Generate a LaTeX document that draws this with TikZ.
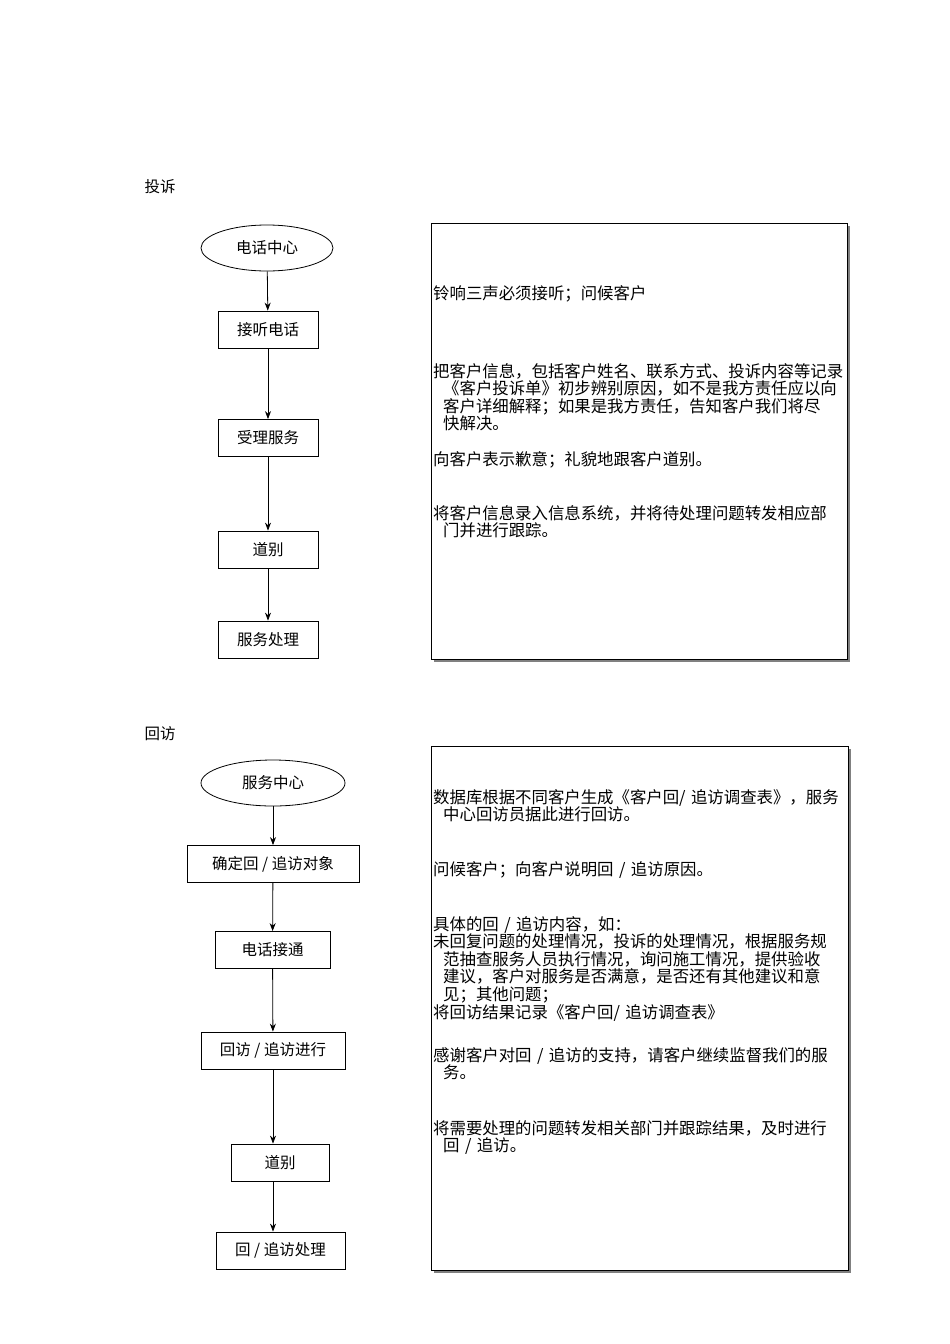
\documentclass[tikz,border=0pt]{standalone}
\usepackage{fontspec}
\setmainfont{Noto Sans CJK SC}
\usetikzlibrary{shapes.geometric,arrows.meta}
\begin{document}
\begin{tikzpicture}[x=1pt,y=-1pt,
  every node/.style={font=\fontsize{15.5}{17.5}\selectfont},
  flowbox/.style={draw,thick,minimum height=37pt,inner sep=0},
  oval/.style={draw,thick,ellipse,minimum width=132pt,minimum height=46pt},
  arr/.style={-{Stealth[length=8pt,width=6pt]},thick},
  panel/.style={draw,thick,fill=white},
  note/.style={anchor=north west,align=left,inner sep=0,text width=420pt,font=\fontsize{16.4}{17.6}\selectfont}]
\useasboundingbox (0,0) rectangle (950,1344);
% top
\node (t1) at (160,187) {投诉};
\fill[gray] (434,226) rectangle (850,662);
\draw[panel] (431,223) rectangle (847,659);
\node (a0) [oval] at (267,248) {电话中心};
\node (a1) [flowbox,minimum width=100pt] at (268,329.5) {接听电话};
\node (a2) [flowbox,minimum width=100pt] at (268,438) {受理服务};
\node (a3) [flowbox,minimum width=100pt] at (268,549.5) {道别};
\node (a4) [flowbox,minimum width=100pt] at (268,639.5) {服务处理};
\draw[arr] (a0) -- (a1);
\draw[arr] (a1) -- (a2);
\draw[arr] (a2) -- (a3);
\draw[arr] (a3) -- (a4);
\node (n1) [note] at (433,285) {铃响三声必须接听；问候客户};
\node (n2) [note] at (433,363) {把客户信息，包括客户姓名、联系方式、投诉内容等记录\\\hspace*{10pt}《客户投诉单》初步辨别原因，如不是我方责任应以向\\\hspace*{10pt}客户详细解释；如果是我方责任，告知客户我们将尽\\\hspace*{10pt}快解决。};
\node (n3) [note] at (433,451) {向客户表示歉意；礼貌地跟客户道别。};
\node (n4) [note] at (433,505) {将客户信息录入信息系统，并将待处理问题转发相应部\\\hspace*{10pt}门并进行跟踪。};
% bottom
\node (t2) at (160,734) {回访};
\fill[gray] (434,749) rectangle (851,1273);
\draw[panel] (431,746) rectangle (848,1270);
\node (b0) [oval,minimum width=144pt] at (273,783) {服务中心};
\node (b1) [flowbox,minimum width=172pt] at (273,864) {确定回 / 追访对象};
\node (b2) [flowbox,minimum width=115pt] at (272.5,950) {电话接通};
\node (b3) [flowbox,minimum width=144pt] at (273,1050.5) {回访 / 追访进行};
\node (b4) [flowbox,minimum width=98pt] at (280,1162.5) {道别};
\node (b5) [flowbox,minimum width=129pt] at (280.5,1250.5) {回 / 追访处理};
\draw[arr] (b0) -- (b1);
\draw[arr] (b1) -- (b2);
\draw[arr] (b2) -- (b3);
\draw[arr] (b3) -- (b3 |- b4.north);
\draw[arr] (b4.south -| b3) -- (b3 |- b5.north);
\node (m1) [note] at (433,789) {数据库根据不同客户生成《客户回/ 追访调查表》，服务\\\hspace*{10pt}中心回访员据此进行回访。};
\node (m2) [note] at (433,861) {问候客户；向客户说明回 / 追访原因。};
\node (m3) [note] at (433,916) {具体的回 / 追访内容，如：\\未回复问题的处理情况，投诉的处理情况，根据服务规\\\hspace*{10pt}范抽查服务人员执行情况，询问施工情况，提供验收\\\hspace*{10pt}建议，客户对服务是否满意，是否还有其他建议和意\\\hspace*{10pt}见；其他问题；\\将回访结果记录《客户回/ 追访调查表》};
\node (m4) [note] at (433,1047) {感谢客户对回 / 追访的支持，请客户继续监督我们的服\\\hspace*{10pt}务。};
\node (m5) [note] at (433,1120) {将需要处理的问题转发相关部门并跟踪结果，及时进行\\\hspace*{10pt}回 / 追访。};
\end{tikzpicture}
\end{document}
